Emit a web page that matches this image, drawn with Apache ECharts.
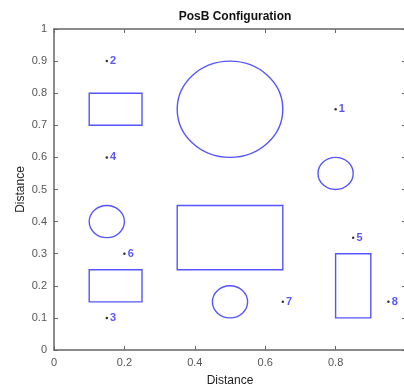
<!DOCTYPE html>
<html>
<head>
<meta charset="utf-8">
<title>PosB Configuration</title>
<script src="https://cdn.jsdelivr.net/npm/echarts@6/dist/echarts.min.js"></script>
<style>
  html, body { margin: 0; padding: 0; background: #fff; }
  #root { width: 404px; height: 387px; }
</style>
</head>
<body>
<div id="root"></div>
<script>
// obstacles and numbered positions, in axis units
var circles = [[0.5, 0.75, 0.15], [0.8, 0.55, 0.05], [0.15, 0.4, 0.05], [0.5, 0.15, 0.05]];
// rects: x0, y0, x1, y1
var rects = [[0.1, 0.7, 0.25, 0.8], [0.35, 0.25, 0.65, 0.45], [0.1, 0.15, 0.25, 0.25], [0.8, 0.1, 0.9, 0.3]];
var pointX = [0.8, 0.15, 0.15, 0.15, 0.85, 0.2, 0.65, 0.95];
var pointY = [0.75, 0.9, 0.1, 0.6, 0.35, 0.3, 0.15, 0.15];
var pointLabels = ['1', '2', '3', '4', '5', '6', '7', '8'];

var points = pointX.map(function (x, i) { return [x, pointY[i], pointLabels[i]]; });

var blue = '#5555ff';
var axisGray = '#666';
var labelGray = '#555';
var font = 'Liberation Sans, Arial, sans-serif';

var chart = echarts.init(document.getElementById('root'));

function axisBase(pos, show) {
    return {
        type: 'value', min: 0, max: 1, position: pos,
        axisLine: { show: true, onZero: false, lineStyle: { color: axisGray, width: 1.5 } },
        axisTick: { show: true, inside: true, length: 4, lineStyle: { color: axisGray } },
        axisLabel: { show: show, color: labelGray, fontSize: 11, fontFamily: font },
        splitLine: { show: false }
    };
}

var xBottom = axisBase('bottom', true);
xBottom.interval = 0.2;
xBottom.name = 'Distance';
xBottom.nameLocation = 'middle';
xBottom.nameGap = 25;
xBottom.nameMoveOverlap = false;
xBottom.nameTextStyle = { color: '#222', fontSize: 12, fontFamily: font };
xBottom.axisLabel.margin = 7;
xBottom.axisLabel.showMaxLabel = false; // cut off by the right edge
var xTop = axisBase('top', false);
xTop.interval = 0.2;

var yLeft = axisBase('left', true);
yLeft.interval = 0.1;
yLeft.name = 'Distance';
yLeft.nameLocation = 'middle';
yLeft.nameGap = 27;
yLeft.nameMoveOverlap = false;
yLeft.nameTextStyle = { color: '#222', fontSize: 12, fontFamily: font };
yLeft.axisLabel.margin = 7;
var yRight = axisBase('right', false);
yRight.interval = 0.1;

var option = {
    animation: false,
    title: {
        text: 'PosB Configuration',
        left: 230, top: 6, textAlign: 'center',
        textStyle: { fontSize: 12, fontWeight: 'bold', color: '#111', fontFamily: font }
    },
    grid: { left: 54, top: 29, width: 352, height: 321, outerBoundsMode: 'none' },
    xAxis: [xBottom, xTop],
    yAxis: [yLeft, yRight],
    series: [{
        type: 'custom',
        data: circles,
        renderItem: function (params, api) {
            var c = api.coord([api.value(0), api.value(1)]);
            var s = api.size([api.value(2), api.value(2)]);
            return {
                type: 'ellipse',
                shape: { cx: c[0], cy: c[1], rx: s[0], ry: s[1] },
                style: { fill: 'none', stroke: blue, lineWidth: 1.4 }
            };
        }
    }, {
        type: 'custom',
        data: rects,
        renderItem: function (params, api) {
            var p0 = api.coord([api.value(0), api.value(3)]);
            var p1 = api.coord([api.value(2), api.value(1)]);
            return {
                type: 'rect',
                shape: { x: p0[0], y: p0[1], width: p1[0] - p0[0], height: p1[1] - p0[1] },
                style: { fill: 'none', stroke: blue, lineWidth: 1.4 }
            };
        }
    }, {
        type: 'scatter',
        data: points,
        symbol: 'circle',
        symbolSize: 2.5,
        itemStyle: { color: '#000' },
        label: {
            show: true, position: 'right', distance: 2,
            formatter: function (p) { return p.value[2]; },
            color: '#2a2aff', fontWeight: 'bold', fontSize: 11, fontFamily: font
        }
    }]
};
chart.setOption(option);
</script>
</body>
</html>
